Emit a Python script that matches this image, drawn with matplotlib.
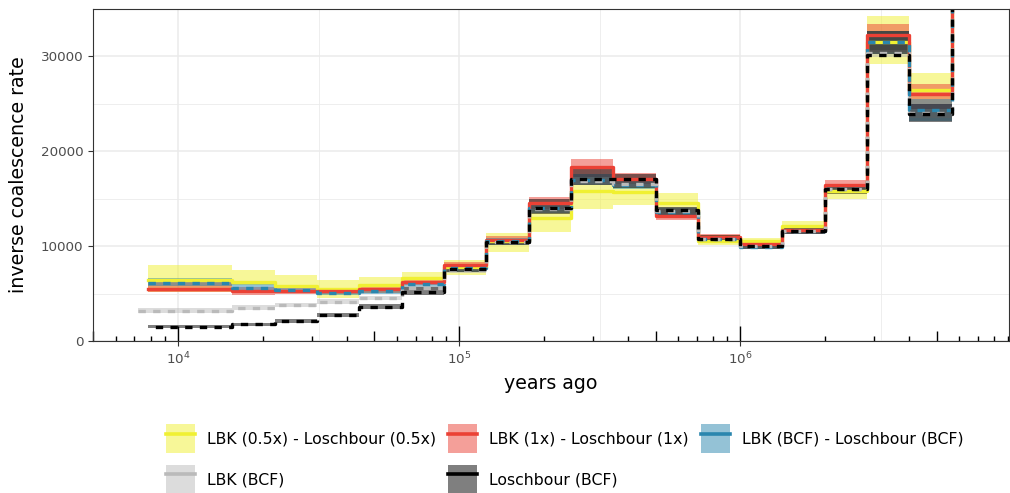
import numpy as np
import matplotlib
matplotlib.use("Agg")
import matplotlib.pyplot as plt
from matplotlib.patches import Patch
from matplotlib.lines import Line2D

# time boundaries (years ago) of the piecewise-constant estimates
edges = [7800, 15600, 22100, 31300, 44200, 62500, 88400, 125000, 177000, 250000,
         354000, 500000, 707000, 1000000, 1410000, 2000000, 2830000, 4000000,
         5660000, 12000000]
edges_lbk = [7200] + edges[1:]

# LBK (0.5x) - Loschbour (0.5x)
half_mid = [6400, 6200, 5850, 5500, 5900, 6600, 7800, 10600, 13000, 15800, 15700,
            14500, 10500, 10500, 12100, 15800, 31500, 26500, 90000]
half_lo = [5190, 5900, 5600, 4500, 5100, 6000, 6950, 9400, 11500, 13900, 14300,
           13500, 10100, 9900, 11500, 15000, 29200, 25000, 80000]
half_hi = [8070, 7500, 7000, 6400, 6800, 7300, 8530, 11400, 13800, 16600, 16200,
           15600, 11200, 10900, 12700, 16400, 34200, 28200, 100000]

# LBK (1x) - Loschbour (1x)
one_mid = [5500, 5250, 5300, 5300, 5500, 6200, 8000, 10700, 14500, 18300, 17100,
           13200, 11000, 10200, 11700, 16400, 32200, 26000, 90000]
one_lo = [5200, 4900, 5000, 5000, 5100, 5900, 7500, 10200, 13900, 17300, 16600,
          12800, 10600, 9900, 11300, 15800, 30500, 24500, 80000]
one_hi = [6300, 5700, 5600, 5600, 5800, 6500, 8300, 11100, 15200, 19200, 17700,
          13900, 11300, 10500, 12000, 17000, 33400, 27100, 100000]

# LBK (BCF) - Loschbour (BCF)
bcf_mid = [6100, 5600, 5400, 5100, 5300, 6000, 7700, 10500, 14000, 17000, 16500,
           13600, 10800, 9900, 11600, 16000, 31500, 24300, 90000]
bcf_lo = [5860, 5300, 5100, 4900, 5000, 5700, 7300, 10100, 13500, 16500, 16000,
          13200, 10600, 9700, 11300, 15600, 30200, 23200, 80000]
bcf_hi = [6600, 6000, 5700, 5400, 5600, 6200, 8000, 10900, 14400, 17600, 17000,
          14000, 11100, 10200, 11900, 16400, 32700, 25500, 100000]

# LBK (BCF)
lbk_mid = [3200, 3540, 3790, 4140, 4560, 5600, 7500, 10400, 13900, 16900, 16600,
           13700, 10800, 10000, 11600, 16000, 30300, 24000, 90000]
lbk_lo = [2950, 3300, 3550, 3900, 4300, 5350, 7200, 10100, 13500, 16500, 16200,
          13300, 10500, 9700, 11300, 15600, 29900, 23500, 80000]
lbk_hi = [3450, 3800, 4050, 4400, 4800, 5850, 7800, 10700, 14300, 17300, 17000,
          14100, 11100, 10300, 11900, 16400, 30700, 24500, 100000]

# Loschbour (BCF)
los_mid = [1510, 1760, 2140, 2740, 3650, 5190, 7600, 10400, 14000, 17100, 17100,
           13800, 10800, 10000, 11600, 16000, 30100, 23900, 90000]
los_lo = [1350, 1600, 1950, 2550, 3400, 4900, 7300, 10100, 13400, 16500, 16100,
          13300, 10500, 9700, 11300, 15500, 30200, 23100, 80000]
los_hi = [1650, 1900, 2300, 2950, 3900, 5700, 8000, 10800, 15000, 18300, 17600,
          14100, 11200, 10200, 11900, 16300, 32700, 25000, 100000]

series = [
    ("LBK (0.5x) - Loschbour (0.5x)", edges, half_mid, half_lo, half_hi, "#f0f032", "-"),
    ("LBK (1x) - Loschbour (1x)", edges, one_mid, one_lo, one_hi, "#eb4135", "-"),
    ("LBK (BCF) - Loschbour (BCF)", edges, bcf_mid, bcf_lo, bcf_hi, "#2a86ae", (0, (2.2, 2.2))),
    ("LBK (BCF)", edges_lbk, lbk_mid, lbk_lo, lbk_hi, "#bababa", (0, (2.2, 2.2))),
    ("Loschbour (BCF)", edges, los_mid, los_lo, los_hi, "#000000", (2.2, (2.2, 2.2))),
]

fig = plt.figure(figsize=(10.1, 4.93), dpi=100)
ax = fig.add_axes([0.092, 0.308, 0.907, 0.674])

def ext(v):
    return np.append(v, v[-1])

# each series: step line, then its ribbon on top
for name, e, mid, lo, hi, col, ls in series:
    ax.step(e, ext(mid), where="post", color=col, lw=2.4, linestyle=ls)
    ax.fill_between(e, ext(lo), ext(hi), step="post", color=col, alpha=0.5, lw=0)

ax.set_xscale("log")
ax.set_xlim(4980, 9.05e6)
ax.set_ylim(0, 35000)

# grid like theme_bw
ax.set_yticks([0, 10000, 20000, 30000])
ax.set_yticks([5000, 15000, 25000], minor=True)
ax.set_xticks([1e4, 1e5, 1e6])
ax.set_xticks([10**4.5, 10**5.5, 10**6.5], minor=True)
ax.grid(which="major", color="#ebebeb", lw=1.1)
ax.grid(which="minor", color="#ebebeb", lw=0.6)
ax.set_axisbelow(True)
ax.tick_params(which="minor", length=0)
ax.tick_params(which="major", length=3.5, color="#333333", labelsize=9.7,
               labelcolor="#4d4d4d", width=0.8)
ax.set_xticklabels([r"$10^4$", r"$10^5$", r"$10^6$"])
for s in ax.spines.values():
    s.set_color("#333333")
    s.set_linewidth(0.8)

# log ticks along the bottom of the panel
tr = ax.get_xaxis_transform()
for dec in [3, 4, 5, 6]:
    for m in range(1, 10):
        x = m * 10.0 ** dec
        if x < 4980 or x > 9.05e6:
            continue
        h = 0.045 if m == 1 else (0.03 if m == 5 else 0.015)
        ax.plot([x, x], [0, h], transform=tr, color="black", lw=1.0,
                solid_capstyle="butt", clip_on=False)

ax.set_xlabel("years ago", fontsize=13.7, labelpad=5)
ax.set_ylabel("inverse coalescence rate", fontsize=13.7, labelpad=9)

handles = []
labels = []
for name, e, mid, lo, hi, col, ls in series:
    handles.append((Patch(facecolor=col, alpha=0.5, lw=0),
                    Line2D([], [], color=col, lw=2.6)))
    labels.append(name)
order = [0, 3, 1, 4, 2]
fig.legend([handles[i] for i in order], [labels[i] for i in order],
           loc="upper left", bbox_to_anchor=(166 / 1010, 1 - 424 / 493),
           frameon=False, fontsize=11.3, ncol=3, handlelength=1.83,
           handleheight=2.43, handletextpad=0.76, columnspacing=0.8,
           labelspacing=0.78, borderpad=0, borderaxespad=0)

fig.savefig("out.png", dpi=100)
